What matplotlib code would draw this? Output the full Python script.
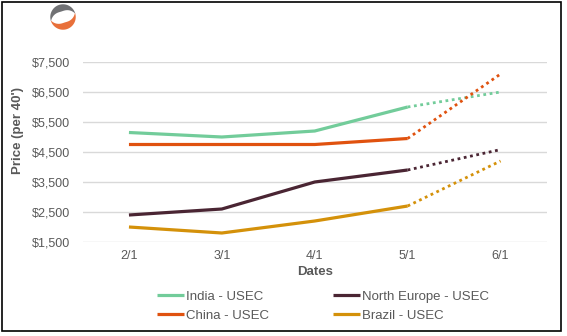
import numpy as np
import matplotlib.pyplot as plt
from matplotlib.patches import Polygon, Rectangle

plt.rcParams["font.family"] = ["Liberation Sans", "DejaVu Sans"]

DATES = ["2/1", "3/1", "4/1", "5/1", "6/1"]
INDIA = [5150, 5000, 5200, 6000, 6500]
NORTH_EUROPE = [2400, 2600, 3500, 3900, 4580]
CHINA = [4750, 4750, 4750, 4950, 7100]
BRAZIL = [2000, 1800, 2200, 2700, 4200]
Y_TICKS = [1500, 2500, 3500, 4500, 5500, 6500, 7500]

# legend fills column by column: India/China left, North Europe/Brazil right
SERIES = [
    ("India - USEC", INDIA, "#72CC9A"),
    ("China - USEC", CHINA, "#E0520F"),
    ("North Europe - USEC", NORTH_EUROPE, "#4A2533"),
    ("Brazil - USEC", BRAZIL, "#D4910A"),
]
TEXT = "#595959"
W, H = 567, 336

fig = plt.figure(figsize=(W / 100, H / 100), dpi=100)
ax = fig.add_axes([82.5 / W, 1 - 242 / H, (547 - 82.5) / W, 180 / H])

x = list(range(len(DATES)))
handles = []
for name, values, color in SERIES:
    # actuals are solid, the last month is a forecast drawn dotted
    line, = ax.plot(x[:4], values[:4], color=color, lw=2.3, solid_capstyle="butt", zorder=3)
    ax.plot(x[3:], values[3:], color=color, lw=2.0, linestyle=(0, (1, 1.3)), zorder=3)
    handles.append(line)

ax.set_xlim(-0.5, len(DATES) - 0.5)
ax.set_ylim(Y_TICKS[0], Y_TICKS[-1])
ax.set_xticks(x)
ax.set_xticklabels(DATES)
ax.set_yticks(Y_TICKS)
ax.set_yticklabels([f"${v:,}" for v in Y_TICKS])
ax.yaxis.grid(True, color="#D9D9D9", lw=1)
ax.set_axisbelow(True)
for spine in ax.spines.values():
    spine.set_visible(False)
ax.tick_params(length=0, labelsize=9, colors=TEXT, pad=9)
ax.tick_params(axis="x", pad=6)

fig.text(18 / W, 1 - 130 / H, "Price (per 40')", rotation=90, ha="center", va="center",
         fontsize=9.5, fontweight="bold", color=TEXT)
fig.text(315 / W, 1 - 272 / H, "Dates", ha="center", va="center",
         fontsize=9.5, fontweight="bold", color=TEXT)

fig.legend(handles, [s[0] for s in SERIES], ncol=2, frameon=False,
           loc="center left", bbox_to_anchor=(150 / W, 1 - 306 / H),
           fontsize=9.5, labelcolor=TEXT, handlelength=2.1, handletextpad=0.15,
           columnspacing=4.8, labelspacing=0.5, borderpad=0)


def crescent(a0, a1, thick=0.55, n=60):
    t = np.radians(np.linspace(a0, a1, n))
    outer = np.column_stack([np.cos(t), np.sin(t)])
    r = 1 - thick * np.sin(np.pi * np.linspace(0, 1, n))
    inner = np.column_stack([r * np.cos(t), r * np.sin(t)])[::-1]
    return np.vstack([outer, inner])


# logo mark in the corner
logo = fig.add_axes([49 / W, 1 - 31 / H, 28 / W, 28 / H])
logo.set_xlim(-1.1, 1.1)
logo.set_ylim(-1.1, 1.1)
logo.set_aspect("equal")
logo.axis("off")
logo.add_patch(Polygon(crescent(15, 200), color="#707174", lw=0))
logo.add_patch(Polygon(crescent(195, 380), color="#E8703A", lw=0))

fig.add_artist(Rectangle((2 / W, 1 - 331 / H), 559 / W, 329 / H, transform=fig.transFigure,
                         fill=False, ec="black", lw=1.2))

fig.savefig("out.png", dpi=100)
